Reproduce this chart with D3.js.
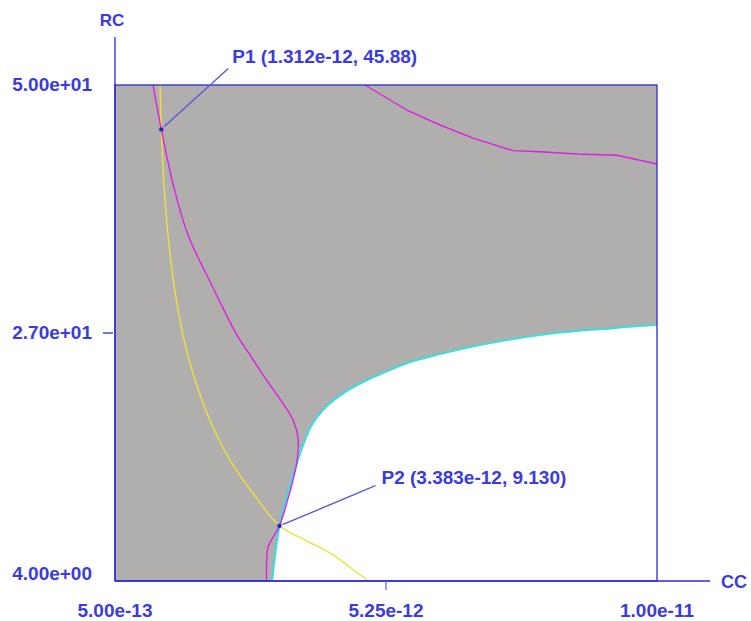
<!DOCTYPE html>
<html><head><meta charset="utf-8">
<script src="https://cdn.jsdelivr.net/npm/d3@7/dist/d3.min.js"></script>
<style>body{margin:0;background:#fff}svg{display:block}</style>
</head><body><svg id="c" width="751" height="621"></svg>
<script>
// ---------- data ----------
const xDomain = [5e-13, 1e-11];
const yDomain = [4, 50];
const xTicks = [5e-13, 5.25e-12, 1e-11];
const xTickLabels = ["5.00e-13", "5.25e-12", "1.00e-11"];
const yTicks = [4, 27, 50];
const yTickLabels = ["4.00e+00", "2.70e+01", "5.00e+01"];
const xAxisName = "CC";
const yAxisName = "RC";

// yellow curve
const yellowX = [1.289e-12, 1.312e-12, 1.359e-12, 1.429e-12, 1.534e-12, 1.692e-12, 1.902e-12, 2.200e-12, 2.516e-12, 2.954e-12, 3.383e-12, 3.830e-12, 4.268e-12, 4.847e-12, 4.952e-12];
const yellowY = [50.0, 45.88, 40.73, 36.09, 31.45, 26.81, 22.64, 18.47, 15.22, 11.88, 9.13, 7.80, 6.60, 4.37, 4.0];

// magenta curve (left)
const magentaAX = [1.166e-12, 1.312e-12, 1.522e-12, 1.780e-12, 2.195e-12, 2.638e-12, 2.866e-12, 3.129e-12, 3.427e-12, 3.620e-12, 3.708e-12, 3.685e-12, 3.620e-12, 3.510e-12, 3.383e-12, 3.182e-12, 3.159e-12, 3.155e-12];
const magentaAY = [50.0, 45.88, 40.73, 36.09, 31.45, 26.81, 24.96, 22.83, 20.60, 18.93, 17.26, 14.94, 13.37, 11.23, 9.13, 7.15, 5.95, 4.0];

// magenta curve (upper right)
const magentaBX = [4.882e-12, 5.613e-12, 6.197e-12, 6.775e-12, 7.476e-12, 7.949e-12, 8.598e-12, 9.299e-12, 1.0e-11];
const magentaBY = [50.0, 47.68, 46.29, 45.08, 43.91, 43.81, 43.60, 43.48, 42.67];

// cyan boundary of the feasible (white) region
const cyanX = [3.252e-12, 3.383e-12, 3.567e-12, 3.690e-12, 3.795e-12, 3.970e-12, 4.234e-12, 4.532e-12, 4.882e-12, 5.233e-12, 5.671e-12, 6.197e-12, 6.898e-12, 8.072e-12, 9.229e-12, 1.0e-11];
const cyanY = [4.0, 9.13, 12.90, 14.94, 16.61, 18.65, 20.32, 21.53, 22.55, 23.38, 24.31, 25.05, 25.89, 26.91, 27.46, 27.74];

// marked points
const pointNames = ["P1", "P2"];
const pointX = [1.312e-12, 3.383e-12];
const pointY = [45.88, 9.13];
const pointLabels = ["P1 (1.312e-12, 45.88)", "P2 (3.383e-12, 9.130)"];

// ---------- drawing ----------
const L = 115, R = 657, T = 85, B = 581;
const svg = d3.select("#c");
const x = d3.scaleLinear().domain(xDomain).range([L, R]);
const y = d3.scaleLinear().domain(yDomain).range([B, T]);

const textCol = "#3b3bdc", lineCol = "#2a2ad4";
const font = "'Liberation Sans', Arial, sans-serif";
const smooth = d3.curveCatmullRom.alpha(0.5);
const line = d3.line().x(d => x(d[0])).y(d => y(d[1]));

// gray infeasible region, bounded by the cyan curve
const cyanRev = cyanX.map((v, i) => [v, cyanY[i]]).reverse();
const cyanRevPath = line.curve(smooth)(cyanRev);
const regionPath = `M${x(xDomain[0])},${y(yDomain[1])}L${x(xDomain[1])},${y(yDomain[1])}L` +
  cyanRevPath.slice(1) + `L${x(xDomain[0])},${y(yDomain[0])}Z`;
svg.append("path").attr("d", regionPath).attr("fill", "#b1aeae");

function curve(xs, ys, color, w, c) {
  svg.append("path")
    .attr("d", line.curve(c)(xs.map((v, i) => [v, ys[i]])))
    .attr("fill", "none").attr("stroke", color).attr("stroke-width", w)
    .attr("stroke-linejoin", "round");
}
curve(cyanX, cyanY, "#3fdcdc", 2.2, smooth);
curve(yellowX, yellowY, "#ece23a", 1.4, smooth);
curve(magentaAX, magentaAY, "#dd22dd", 1.4, smooth);
curve(magentaBX, magentaBY, "#dd22dd", 1.4, d3.curveLinear);

// frame
svg.append("rect").attr("x", L).attr("y", T).attr("width", R - L).attr("height", B - T)
  .attr("fill", "none").attr("stroke", lineCol).attr("stroke-width", 1.3);
// axes extended
svg.append("line").attr("x1", L).attr("x2", L).attr("y1", 37).attr("y2", B)
  .attr("stroke", lineCol).attr("stroke-width", 1.3);
svg.append("line").attr("x1", L).attr("x2", 710).attr("y1", B).attr("y2", B)
  .attr("stroke", lineCol).attr("stroke-width", 1.3);

// ticks (only the middle ones have tick marks)
svg.append("line").attr("x1", 103).attr("x2", 113).attr("y1", y(yTicks[1])).attr("y2", y(yTicks[1]))
  .attr("stroke", lineCol).attr("stroke-width", 1.3);
svg.append("line").attr("x1", x(xTicks[1])).attr("x2", x(xTicks[1])).attr("y1", B).attr("y2", B + 9)
  .attr("stroke", "#6666cc").attr("stroke-width", 1.3);

yTicks.forEach((t, i) => {
  const base = i === 0 ? y(t) - 1 : y(t) + 6;
  svg.append("text").attr("x", 92).attr("y", base).attr("text-anchor", "end")
    .attr("font-family", font).attr("font-weight", "bold").attr("font-size", 19)
    .attr("fill", textCol).text(yTickLabels[i]);
});
xTicks.forEach((t, i) => {
  svg.append("text").attr("x", x(t)).attr("y", 617).attr("text-anchor", "middle")
    .attr("font-family", font).attr("font-weight", "bold").attr("font-size", 19)
    .attr("fill", textCol).text(xTickLabels[i]);
});
svg.append("text").attr("x", 721).attr("y", 588).attr("font-family", font).attr("font-weight", "bold")
  .attr("font-size", 18).attr("fill", textCol).text(xAxisName);
svg.append("text").attr("x", 112).attr("y", 26).attr("text-anchor", "middle").attr("font-family", font)
  .attr("font-weight", "bold").attr("font-size", 17).attr("fill", textCol).text(yAxisName);

// point annotations
const annot = [{dx: 67, dy: -61, tx: 71, ty: -66}, {dx: 96, dy: -40, tx: 102, ty: -42}];
pointX.forEach((px, i) => {
  const cx = x(px), cy = y(pointY[i]), a = annot[i];
  svg.append("line").attr("x1", cx + 3).attr("y1", cy - (i === 0 ? 3 : 1)).attr("x2", cx + a.dx).attr("y2", cy + a.dy)
    .attr("stroke", "#5a5ad6").attr("stroke-width", 1.4);
  svg.append("circle").attr("cx", cx).attr("cy", cy).attr("r", 2.2).attr("fill", "#2a2ab0");
  svg.append("text").attr("x", cx + a.tx).attr("y", cy + a.ty)
    .attr("font-family", font).attr("font-weight", "bold").attr("font-size", 19)
    .attr("fill", textCol).text(pointLabels[i]);
});
</script></body></html>
